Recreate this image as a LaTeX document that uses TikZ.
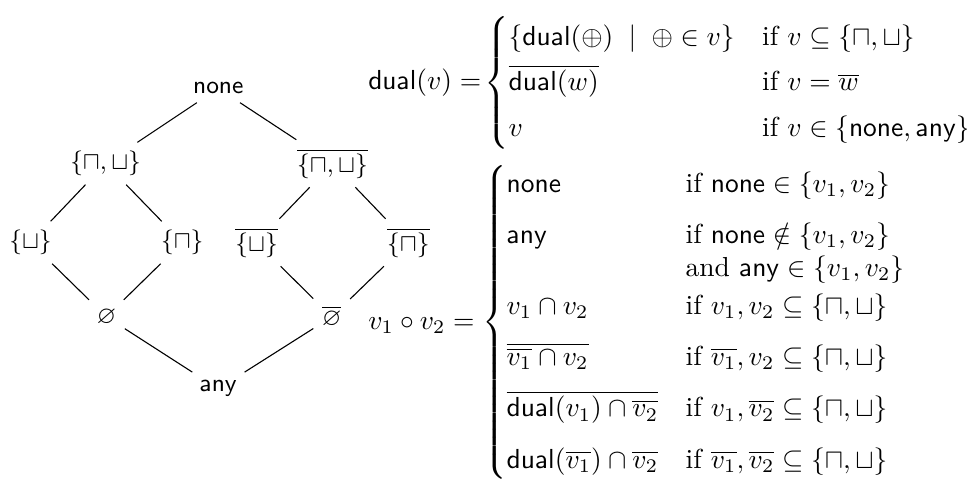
\documentclass[tikz,border=0pt]{standalone}
\usepackage{amsmath, amssymb}
\usepackage{tikz}
\usetikzlibrary{positioning}

\newcommand{\vnone}{\mathsf{none}}
\newcommand{\vany}{\mathsf{any}}
\newcommand{\dualop}{\mathsf{dual}}
\newcommand{\opset}{\{\sqcap,\sqcup\}}

\begin{document}
\begin{tikzpicture}[on grid, elt/.style={inner sep=3pt, font=\small}, link/.style={line width=0.4pt}]
          \useasboundingbox (0,0) rectangle (12.36,-6.19);
          \node[elt] (top) at (2.79,-1.13) {$\vnone$};
          \node[elt, below left=0.96cm and 1.44cm of top] (both) {$\opset$};
          \node[elt, below right=0.96cm and 1.46cm of top] (bothbar) {$\overline{\opset}$};
          \node[elt, below left=1.01cm and 0.96cm of both] (sup) {$\{\sqcup\}$};
          \node[elt, below right=1.01cm and 0.98cm of both] (cap) {$\{\sqcap\}$};
          \node[elt, below left=1.01cm and 0.97cm of bothbar] (supbar) {$\overline{\{\sqcup\}}$};
          \node[elt, below right=1.01cm and 0.97cm of bothbar] (capbar) {$\overline{\{\sqcap\}}$};
          \node[elt, below right=0.95cm and 0.97cm of sup] (empty) {$\varnothing$};
          \node[elt, below right=0.95cm and 0.96cm of supbar] (emptybar) {$\overline{\varnothing}$};
          \node[elt, below right=0.92cm and 1.43cm of empty] (bottom) {$\vany$};
          \draw[link] (top) -- (both);
          \draw[link] (top) -- (bothbar);
          \draw[link] (both) -- (sup);
          \draw[link] (both) -- (cap);
          \draw[link] (bothbar) -- (supbar);
          \draw[link] (bothbar) -- (capbar);
          \draw[link] (sup) -- (empty);
          \draw[link] (cap) -- (empty);
          \draw[link] (supbar) -- (emptybar);
          \draw[link] (capbar) -- (emptybar);
          \draw[link] (empty) -- (bottom);
          \draw[link] (emptybar) -- (bottom);
          \node[inner sep=0pt, anchor=west] (dualdef) at (4.70,-1.06) {$\dualop(v) =\!\begin{cases}
              \{\dualop(\oplus) \;\mid\; \oplus \in v\} & \text{if } v \subseteq \opset \\[0.5ex]
              \overline{\dualop(w)} & \text{if } v = \overline{w} \\[0.5ex]
              v & \text{if } v \in \{\vnone, \vany\}
            \end{cases}$};
          \node[inner sep=0pt, anchor=west] (compdef) at (4.70,-4.12) {$v_1 \circ v_2 = \begin{cases}
              \vnone & \text{if } \vnone \in \{v_1, v_2\} \\[1ex]
              \vany & \def\arraystretch{1}\begin{array}[t]{@{}l@{}} \text{if } \vnone \notin \{v_1, v_2\} \\ \text{and } \vany \in \{v_1, v_2\} \end{array} \\[1ex]
              v_1 \cap v_2 & \text{if } v_1, v_2 \subseteq \opset \\[1ex]
              \overline{\overline{v_1} \cap v_2} & \text{if } \overline{v_1}, v_2 \subseteq \opset \\[1ex]
              \overline{\dualop(v_1) \cap \overline{v_2}} & \text{if } v_1, \overline{v_2} \subseteq \opset \\[1ex]
              \dualop(\overline{v_1}) \cap \overline{v_2} & \text{if } \overline{v_1}, \overline{v_2} \subseteq \opset
            \end{cases}$};
        \end{tikzpicture}
\end{document}
